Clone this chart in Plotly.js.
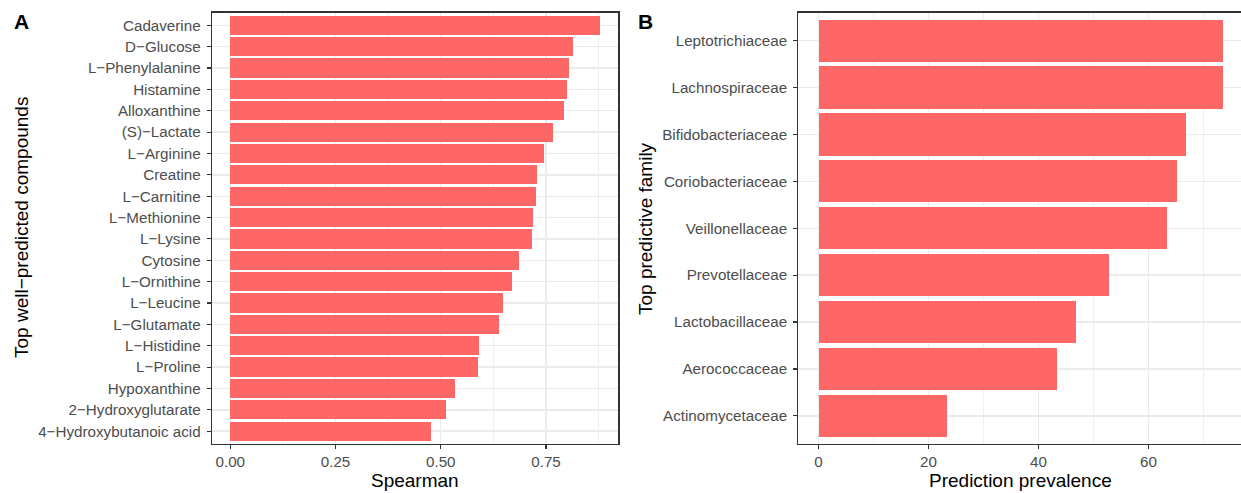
<!DOCTYPE html>
<html>
<head>
<meta charset="utf-8">
<script src="https://cdn.plot.ly/plotly-3.0.1.min.js"></script>
<style>html,body{margin:0;padding:0;background:#fff;overflow:hidden}</style>
</head>
<body>
<div id="chart" style="width:1241px;height:493px"></div>
<script>
// Panel A data (top to bottom)
const compounds = ["Cadaverine","D\u2212Glucose","L\u2212Phenylalanine","Histamine","Alloxanthine","(S)\u2212Lactate","L\u2212Arginine","Creatine","L\u2212Carnitine","L\u2212Methionine","L\u2212Lysine","Cytosine","L\u2212Ornithine","L\u2212Leucine","L\u2212Glutamate","L\u2212Histidine","L\u2212Proline","Hypoxanthine","2\u2212Hydroxyglutarate","4\u2212Hydroxybutanoic acid"];
const spearman = [0.878,0.814,0.805,0.800,0.793,0.767,0.745,0.729,0.726,0.719,0.717,0.686,0.669,0.648,0.638,0.591,0.589,0.534,0.513,0.477];
const xTicksA = [0, 0.25, 0.5, 0.75];
const xTickTextA = ["0.00","0.25","0.50","0.75"];

// Panel B data (top to bottom)
const families = ["Leptotrichiaceae","Lachnospiraceae","Bifidobacteriaceae","Coriobacteriaceae","Veillonellaceae","Prevotellaceae","Lactobacillaceae","Aerococcaceae","Actinomycetaceae"];
const prevalence = [73.5,73.5,66.8,65.1,63.3,52.8,46.8,43.3,23.3];
const xTicksB = [0, 20, 40, 60];

const W = 1241, H = 493;
const px = x => x / W;
const py = y => 1 - y / H;
const FONT = "Liberation Sans, Arial, Helvetica, sans-serif";
const BAR = "#FF6666";
const GRID = "#EBEBEB";
const DARK = "#333333";

const traces = [
  {type:"bar", orientation:"h", x: spearman, y: compounds, width: 0.9,
   marker:{color:BAR, line:{width:0}}, xaxis:"x", yaxis:"y", hoverinfo:"skip"},
  {type:"bar", orientation:"h", x: prevalence, y: families, width: 0.9,
   marker:{color:BAR, line:{width:0}}, xaxis:"x2", yaxis:"y2", hoverinfo:"skip"}
];

const yDom = [py(444), py(12.5)];
const tickFont = {family: FONT, size: 15.2, color: "#4D4D4D"};

const maxA = Math.max(...spearman), maxB = Math.max(...prevalence);

const layout = {
  width: W, height: H,
  margin: {l:0, r:0, t:0, b:0},
  paper_bgcolor: "#fff", plot_bgcolor: "#fff",
  showlegend: false, bargap: 0,
  font: {family: FONT},
  xaxis: {
    domain: [px(211.8), px(618.4)],
    range: [-0.05*maxA, 1.05*maxA],
    tickvals: xTicksA, ticktext: xTickTextA,
    showgrid: true, gridcolor: GRID, gridwidth: 1.4,
    minor: {dtick: 0.125, tick0: 0, showgrid: true, gridcolor: GRID, gridwidth: 0.8, ticks: ""},
    zeroline: false,
    showline: true, mirror: true, linecolor: DARK, linewidth: 1.1,
    ticks: "outside", ticklen: 4, tickwidth: 1.1, tickcolor: DARK,
    tickfont: tickFont, ticklabelstandoff: 0, anchor: "y"
  },
  yaxis: {
    domain: yDom,
    type: "category",
    categoryorder: "array", categoryarray: compounds,
    range: [compounds.length - 1 + 0.6, -0.6],
    showgrid: true, gridcolor: GRID, gridwidth: 1.4,
    zeroline: false,
    showline: true, mirror: true, linecolor: DARK, linewidth: 1.1,
    ticks: "outside", ticklen: 4, tickwidth: 1.1, tickcolor: DARK,
    tickfont: tickFont, ticklabelstandoff: 3, anchor: "x"
  },
  xaxis2: {
    domain: [px(798.3), 1],
    range: [-0.05*maxB, -0.05*maxB + (1241-798.3)/5.5],
    tickvals: xTicksB,
    showgrid: true, gridcolor: GRID, gridwidth: 1.4,
    minor: {dtick: 10, tick0: 0, showgrid: true, gridcolor: GRID, gridwidth: 0.8, ticks: ""},
    zeroline: false,
    showline: true, mirror: true, linecolor: DARK, linewidth: 1.1,
    ticks: "outside", ticklen: 4, tickwidth: 1.1, tickcolor: DARK,
    tickfont: tickFont, ticklabelstandoff: 0, anchor: "y2"
  },
  yaxis2: {
    domain: yDom,
    type: "category",
    categoryorder: "array", categoryarray: families,
    range: [families.length - 1 + 0.6, -0.6],
    showgrid: true, gridcolor: GRID, gridwidth: 1.4,
    zeroline: false,
    showline: true, mirror: false, linecolor: DARK, linewidth: 1.1,
    ticks: "outside", ticklen: 4, tickwidth: 1.1, tickcolor: DARK,
    tickfont: tickFont, ticklabelstandoff: 3, anchor: "x2"
  },
  annotations: [
    {text:"<b>A</b>", x: px(21), y: py(22), xref:"paper", yref:"paper", showarrow:false,
     xanchor:"center", yanchor:"middle", font:{family:FONT, size:21, color:"#000"}},
    {text:"<b>B</b>", x: px(645.5), y: py(22), xref:"paper", yref:"paper", showarrow:false,
     xanchor:"center", yanchor:"middle", font:{family:FONT, size:21, color:"#000"}},
    {text:"Spearman", x: px(415), y: py(480), xref:"paper", yref:"paper", showarrow:false,
     xanchor:"center", yanchor:"middle", font:{family:FONT, size:19, color:"#000"}},
    {text:"Prediction prevalence", x: px(1020), y: py(480), xref:"paper", yref:"paper", showarrow:false,
     xanchor:"center", yanchor:"middle", font:{family:FONT, size:19, color:"#000"}},
    {text:"Top well\u2212predicted compounds", x: px(21), y: py(228), xref:"paper", yref:"paper", showarrow:false,
     textangle:-90, xanchor:"center", yanchor:"middle", font:{family:FONT, size:19, color:"#000"}},
    {text:"Top predictive family", x: px(645), y: py(229), xref:"paper", yref:"paper", showarrow:false,
     textangle:-90, xanchor:"center", yanchor:"middle", font:{family:FONT, size:19, color:"#000"}}
  ]
};

Plotly.newPlot("chart", traces, layout, {staticPlot: true, displayModeBar: false});
</script>
</body>
</html>
